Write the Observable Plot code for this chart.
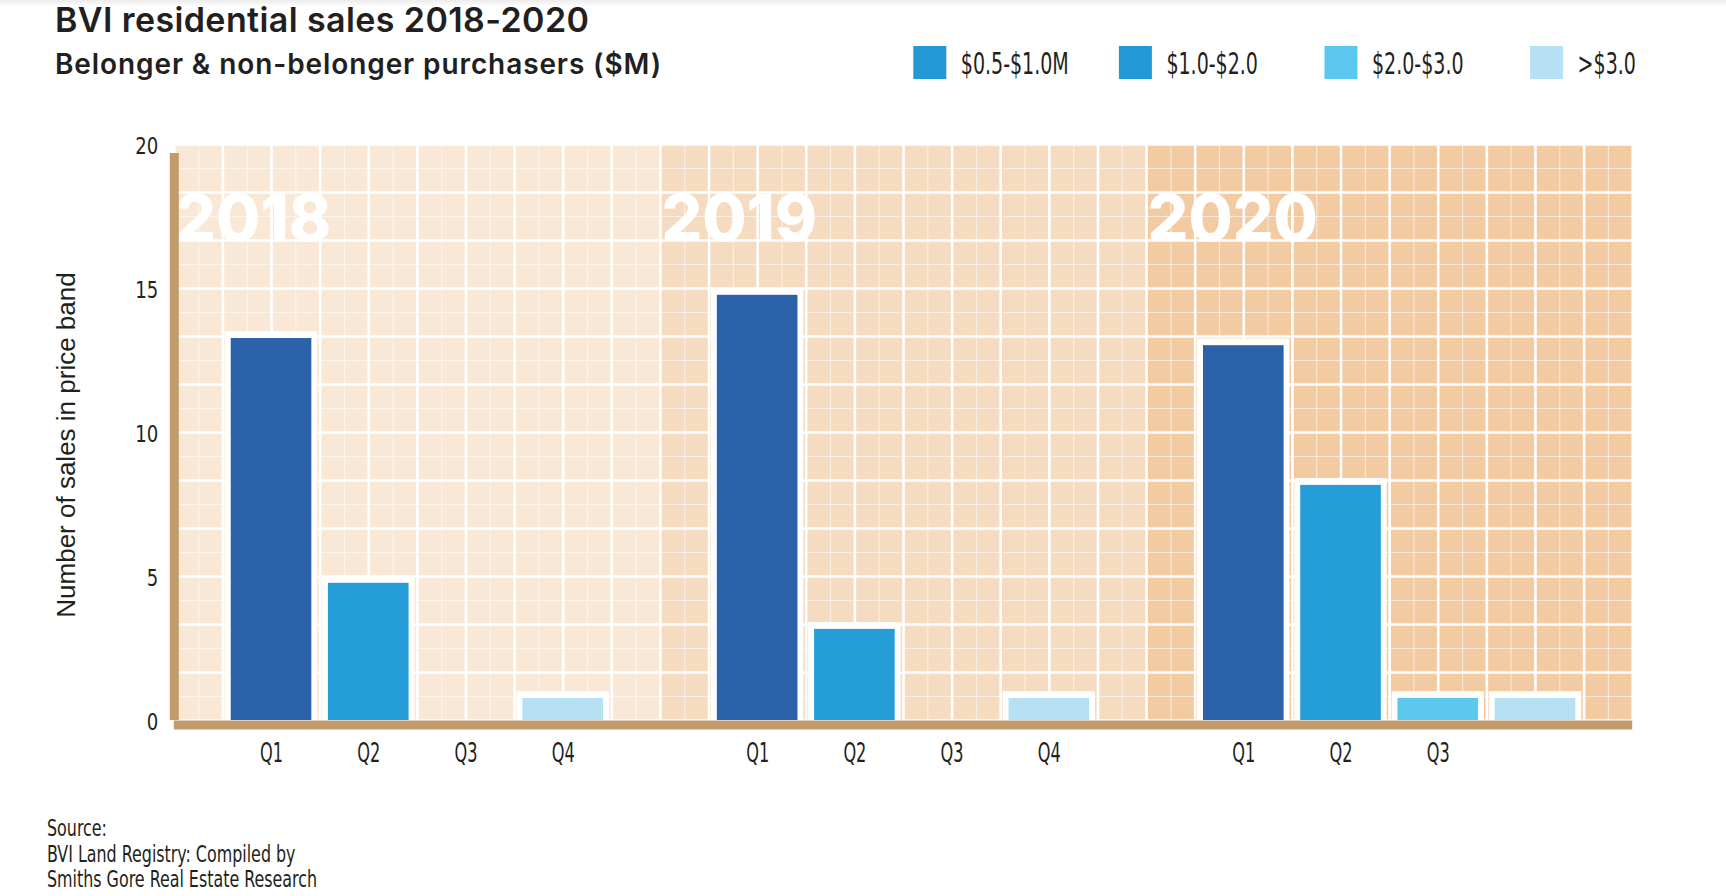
<!DOCTYPE html>
<html>
<head>
<meta charset="utf-8">
<script src="https://cdn.jsdelivr.net/npm/d3@7"></script>
<script src="https://cdn.jsdelivr.net/npm/@observablehq/plot@0.6"></script>
<style>
  body { margin: 0; background: #fff; }
  #page { position: relative; width: 1726px; height: 896px; overflow: hidden; background: #fff; }
  #topstrip { position: absolute; left: 0; top: 0; width: 1726px; height: 5px; background: linear-gradient(#ececec, #fafafa); }
  #head, #chart, #foot { position: absolute; left: 0; }
  #head { top: 0; }
  #chart { top: 130px; }
  #foot { top: 790px; }
</style>
</head>
<body>
<div id="page"><div id="topstrip"></div><div id="head"></div><div id="chart"></div><div id="foot"></div></div>
<script>
// ---------- data ----------
const title = "BVI residential sales 2018-2020";
const subtitle = "Belonger & non-belonger purchasers ($M)";
const years = ["2018", "2019", "2020"];
const quarters = ["Q1", "Q2", "Q3", "Q4"];
const sales2018 = [13.5, 5, 0, 1];
const sales2019 = [15, 3.4, 0, 1];
const sales2020 = [13.25, 8.4, 1, 1];
const labels2018 = ["Q1", "Q2", "Q3", "Q4"];
const labels2019 = ["Q1", "Q2", "Q3", "Q4"];
const labels2020 = ["Q1", "Q2", "Q3", ""];
const bands = ["$0.5-$1.0M", "$1.0-$2.0", "$2.0-$3.0", ">$3.0"];
const bandColors = ["#2498d4", "#2498d4", "#5cc7ee", "#b6e0f3"];
const barColors = ["#2c62a9", "#259dd7", "#5cc8ee", "#b6e1f3"];
const panelColors = ["#f8e8d5", "#f5dbbf", "#f3cba3"];
const yTicks = [0, 5, 10, 15, 20];
const yTitle = "Number of sales in price band";
const sourceLines = ["Source:", "BVI Land Registry: Compiled by", "Smiths Gore Real Estate Research"];

// ---------- build tables ----------
const slotsPerYear = 5;
const series = [sales2018, sales2019, sales2020];
const labelSets = [labels2018, labels2019, labels2020];
const bars = [];
years.forEach((yr, i) => series[i].forEach((v, q) => bars.push({
  year: yr, quarter: quarters[q], label: labelSets[i][q], q, pos: i * slotsPerYear + q + 1, value: v
})));
const shown = bars.filter(d => d.value > 0);
const panels = years.map((yr, i) => ({year: yr, x1: i * slotsPerYear, x2: (i + 1) * slotsPerYear, fill: panelColors[i]}));
const xMax = years.length * slotsPerYear;
const xMajor = d3.range(0, xMax + 1e-9, 0.5);
const xMinor = d3.range(0.25, xMax, 0.5);
const yMajor = d3.range(0, 13).map(k => k * 20 / 12);
const yMinor = d3.range(0, 12).map(k => (k + 0.5) * 20 / 12);
const labelByPos = new Map(bars.filter(d => d.label).map(d => [d.pos, d.label]));

const narrow = "'Liberation Sans Narrow', 'DejaVu Sans Condensed', 'Roboto', sans-serif";
const ink = "#231f20";
const brown = "#c39a6c";

// ---------- header ----------
const head = d3.select("#head").append("svg").attr("width", 1726).attr("height", 130);
head.append("text").attr("x", 55).attr("y", 32).attr("fill", ink)
  .attr("font-family", "Inter, 'Open Sans', sans-serif").attr("font-weight", 600).attr("font-size", 34)
  .attr("letter-spacing", 0.4).text(title);
head.append("text").attr("x", 55).attr("y", 73.5).attr("fill", ink)
  .attr("font-family", "Inter, 'Open Sans', sans-serif").attr("font-weight", 600).attr("font-size", 28)
  .attr("letter-spacing", 0.9).text(subtitle);
const leg = head.selectAll("g.leg").data(bands).join("g").attr("class", "leg")
  .attr("transform", (d, i) => `translate(${913.3 + i * 205.6},0)`);
leg.append("rect").attr("x", 0).attr("y", 46).attr("width", 33).attr("height", 33).attr("fill", (d, i) => bandColors[i]);
leg.append("text").attr("class", "legtext").attr("x", 47.5).attr("y", 73.5).attr("fill", ink)
  .attr("font-family", narrow).attr("font-size", 31).text(d => d);

// ---------- chart ----------
const chart = Plot.plot({
  width: 1726,
  height: 660,
  marginLeft: 173.8,
  marginRight: 93.8,
  marginTop: 14,
  marginBottom: 70,
  x: {domain: [0, xMax], axis: null},
  y: {domain: [0, 20], axis: null},
  style: {background: "transparent", color: ink, overflow: "visible"},
  marks: [
    Plot.rect(panels, {x1: "x1", x2: "x2", y1: 0, y2: 20, fill: d => d.fill}),
    Plot.ruleY(yMinor, {stroke: "white", strokeWidth: 1.2, strokeOpacity: 0.55}),
    Plot.ruleX(xMinor, {y1: 0, y2: 20, stroke: "white", strokeWidth: 1.2, strokeOpacity: 0.55}),
    Plot.ruleY(yMajor, {stroke: "white", strokeWidth: 2.6}),
    Plot.ruleX(xMajor, {y1: 0, y2: 20, stroke: "white", strokeWidth: 2.6}),
    Plot.text(panels, {x: "x1", y: 50 / 3, text: "year", textAnchor: "start", lineAnchor: "bottom",
      fill: "white", fontSize: 64, fontWeight: 800, fontFamily: "Inter, 'Open Sans', sans-serif", dx: 1}),
    Plot.rectY(shown, {x1: d => d.pos - 0.5, x2: d => d.pos + 0.5, y1: 0, y2: "value",
      fill: "white", insetLeft: 2.4, insetRight: 2.4}),
    Plot.rectY(shown, {x1: d => d.pos - 0.5, x2: d => d.pos + 0.5, y1: 0, y2: "value",
      fill: d => barColors[d.q], insetLeft: 8.3, insetRight: 8.3, insetTop: 6.8}),
    Plot.ruleY([0], {stroke: brown, strokeWidth: 9, dy: 4.5}),
    Plot.ruleX([0], {y1: 0, y2: 20, stroke: brown, strokeWidth: 9, insetBottom: -9}),
    Plot.axisY(yTicks, {tickSize: 0, tickPadding: 16, fontSize: 23, fontFamily: narrow, dy: 2.5, label: null, fill: ink}),
    Plot.axisX([...labelByPos.keys()], {tickSize: 0, tickPadding: 22, fontSize: 27, fontFamily: narrow,
      tickFormat: p => labelByPos.get(p), label: null, fill: ink}),
    Plot.text([yTitle], {text: d => d, frameAnchor: "left", rotate: -90, dx: 66 - 173.8, dy: 12.5,
      fontSize: 26, fontFamily: "'Liberation Sans', Arial, sans-serif", textAnchor: "middle", lineAnchor: "middle", fill: ink})
  ]
});
document.getElementById("chart").appendChild(chart);

// ---------- footer ----------
const foot = d3.select("#foot").append("svg").attr("width", 700).attr("height", 106);
foot.selectAll("text").data(sourceLines).join("text").attr("class", "src")
  .attr("x", 47).attr("y", (d, i) => [46, 72, 97][i]).attr("fill", ink)
  .attr("font-family", narrow).attr("font-size", 23.5).text(d => d);

// ---------- condense narrow texts to match reference widths ----------
function squeeze(sel, refText, target) {
  let k = null;
  sel.each(function () { if (this.textContent === refText) k = target / this.getComputedTextLength(); });
  if (!k || !isFinite(k)) return;
  sel.each(function () {
    const w = this.getComputedTextLength();
    if (w > 0) { this.setAttribute("textLength", w * k); this.setAttribute("lengthAdjust", "spacingAndGlyphs"); }
  });
}
squeeze(head.selectAll("text.legtext"), bands[0], 108);
squeeze(foot.selectAll("text.src"), sourceLines[2], 270);
const cs = d3.select(chart);
squeeze(cs.selectAll('g[aria-label="y-axis tick label"] text'), "20", 23);
squeeze(cs.selectAll('g[aria-label="x-axis tick label"] text'), "Q1", 23);
</script>
</body>
</html>
